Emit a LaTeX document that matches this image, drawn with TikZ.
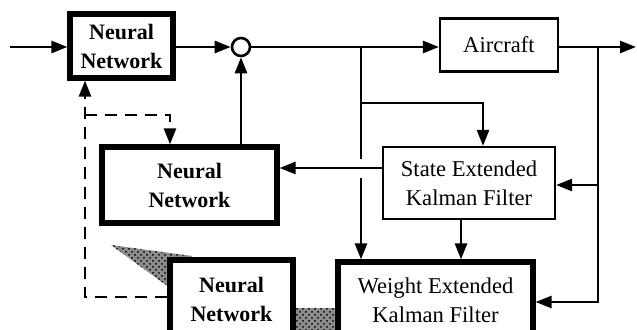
\documentclass[tikz,border=0pt]{standalone}
\usepackage{fontspec}
\setmainfont{Liberation Serif}
\usetikzlibrary{arrows.meta,patterns}
\begin{document}
\begin{tikzpicture}[x=0.5pt,y=-0.5pt,
  line/.style={line width=1.3pt},
  tip/.style={-{Triangle[length=8pt,width=6pt]}},
  arr/.style={line, tip},
  dashline/.style={line, dash pattern=on 6pt off 4pt},
  basebox/.style={draw, fill=white, inner sep=0pt, align=center,
    font=\fontsize{11.3}{14.5}\selectfont},
  thinbox/.style={basebox, line width=1.1pt},
  thickbox/.style={basebox, line width=2.6pt},
  nnbox/.style={thickbox, font=\fontsize{11}{14.5}\selectfont\bfseries},
  stipple/.style={fill=black!45, postaction={pattern=crosshatch dots}}]
\useasboundingbox (0,0) rectangle (637,330);
\clip (0,0) rectangle (637,330);

% stippled shadows around the lower network
\fill[stipple] (111,245) -- (192,256) -- (170,288) -- cycle;
\fill[stipple] (295,308) rectangle (337,340);

% blocks
\node[nnbox, minimum width=51.5pt, minimum height=32pt] (nn1) at (121.5,46) {Neural\\Network};
\node[draw, circle, line width=1.3pt, minimum size=9pt, inner sep=0pt] (sum) at (241,47) {};
\node[thinbox, minimum width=59pt, minimum height=26.5pt] (air) at (499,45) {Aircraft};
\node[thinbox, minimum width=86pt, minimum height=36pt] (sekf) at (469,183) {State Extended\\Kalman Filter};
\node[nnbox, minimum width=87.5pt, minimum height=38pt] (nn2) at (189.5,185) {Neural\\Network};
\node[nnbox, minimum width=61.5pt, minimum height=39pt] (nn3) at (231.5,299) {Neural\\Network};
\node[thickbox, minimum width=97.5pt, minimum height=38pt] (wekf) at (435.5,300) {Weight Extended\\Kalman Filter};

% forward path
\coordinate (in) at (10,47);
\coordinate (out) at (636,47);
\draw[arr] (in) -- (nn1.west |- in);
\draw[arr] (nn1.east |- sum) -- (sum.west);
\draw[arr] (sum.east) -- (air.west |- sum);
\draw[arr] (air.east |- out) -- (out);

% plant output back to both filters
\coordinate (j2) at (598,47);
\coordinate (j2a) at (598,185);
\coordinate (j2b) at (598,302);
\draw[arr] (j2) -- (j2b) -- (wekf.east |- j2b);
\draw[arr] (j2a) -- (sekf.east |- j2a);

% control signal to the filters (with a break where it crosses)
\coordinate (j1) at (361,47);
\coordinate (gapT) at (361,159);
\coordinate (gapB) at (361,178);
\draw[line] (j1) -- (gapT);
\draw[arr] (gapB) -- (gapB |- wekf.north);
\coordinate (j1a) at (361,103);
\coordinate (k1) at (483,103);
\draw[arr] (j1a) -- (k1) -- (k1 |- sekf.north);

% state estimate to the middle network
\coordinate (lvl) at (0,168);
\draw[arr] (sekf.west |- lvl) -- (nn2.east |- lvl);
\coordinate (k2) at (461,0);
\draw[arr] (sekf.south -| k2) -- (wekf.north -| k2);
\draw[arr] (nn2.north -| sum) -- (sum.south);

% weight updates (dashed)
\coordinate (d1) at (85,297);
\coordinate (d2) at (85,115);
\coordinate (d3) at (170,115);
\draw[dashline, tip] (nn3.west |- d1) -- (d1) -- (d1 |- nn1.south);
\draw[dashline, tip] (d2) -- (d3) -- (d3 |- nn2.north);
\end{tikzpicture}
\end{document}
